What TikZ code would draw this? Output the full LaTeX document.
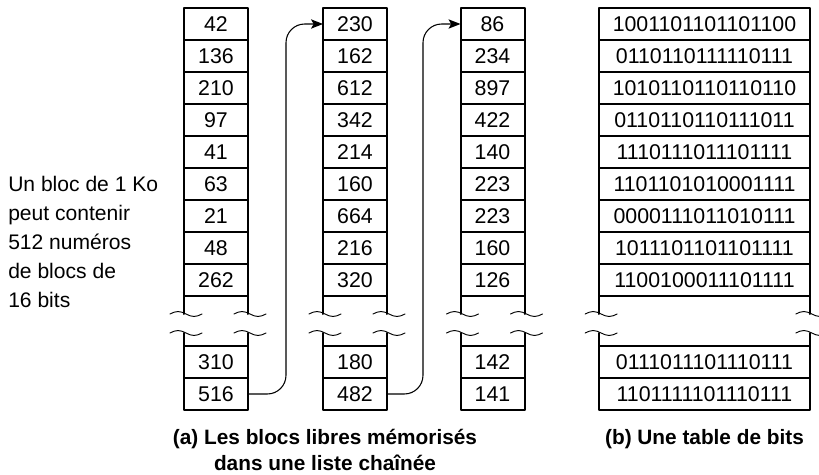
\documentclass[tikz,border=0pt]{standalone}
\usepackage{fontspec}
\setmainfont{Liberation Sans}
\usetikzlibrary{positioning,arrows.meta}

\tikzset{
  cell/.style={draw, line width=1.5pt, outer sep=0pt, minimum width=48pt, minimum height=24pt, inner sep=0pt, font=\fontsize{16}{18}\selectfont},
  bitcell/.style={cell, minimum width=158pt},
  wall/.style={line width=1.5pt},
  wave/.style={line width=0.7pt},
  link/.style={line width=0.8pt, rounded corners=14pt, -{Stealth[length=9pt,width=7pt,inset=2pt]}},
  note/.style={font=\fontsize{15.8}{21.6}\selectfont, align=left, inner sep=0pt},
  caption/.style={font=\bfseries\fontsize{15.6}{19}\selectfont, align=center, inner sep=0pt}
}

\begin{document}
\begin{tikzpicture}[x=0.75pt, y=-0.75pt, line join=round, line cap=round]
	\useasboundingbox (0,0) rectangle (819,475);
	\foreach \v [count=\i] in {42,136,210,97,41,63,21,48,262}
		\node[cell] (a\i) at (216,{24+32*(\i-1)}) {\v};
	\foreach \v [count=\i] in {230,162,612,342,214,160,664,216,320}
		\node[cell] (b\i) at (355,{24+32*(\i-1)}) {\v};
	\foreach \v [count=\i] in {86,234,897,422,140,223,223,160,126}
		\node[cell] (c\i) at (492.5,{24+32*(\i-1)}) {\v};
	\foreach \v [count=\i] in {1001101101101100,0110110111110111,1010110110110110,0110110110111011,1110111011101111,1101101010001111,0000111011010111,1011101101101111,1100100011101111}
		\node[bitcell] (t\i) at (704.5,{24+32*(\i-1)}) {\v};
	\node[cell] (a10) at (216,362) {310};
	\node[cell] (a11) at (216,394) {516};
	\node[cell] (b10) at (355,362) {180};
	\node[cell] (b11) at (355,394) {482};
	\node[cell] (c10) at (492.5,362) {142};
	\node[cell] (c11) at (492.5,394) {141};
	\node[bitcell] (t10) at (704.5,362) {0111011101110111};
	\node[bitcell] (t11) at (704.5,394) {1101111101110111};
	\foreach \n in {a,b,c,t}
		\foreach \s in {west,east} {
			\draw[wall] (\n9.south \s) -- ++(0,18);
			\draw[wall] (\n10.north \s) -- ++(0,-13);
			\draw[wave] (\n9.south \s) ++(-14,18) sin ++(8,-2.5) cos ++(8,2.5) sin ++(8,2.5) cos ++(8,-2.5);
			\draw[wave] (\n10.north \s) ++(-14,-13) sin ++(8,-2.5) cos ++(8,2.5) sin ++(8,2.5) cos ++(8,-2.5);
		}
	\draw[link] (a11.east) -- ++(38,0) |- (b1.west);
	\draw[link] (b11.east) -- ++(36,0) |- (c1.west);
	\node[note, anchor=west] (info) at (8,242) {Un bloc de 1 Ko\\peut contenir\\512 numéros\\de blocs de\\16 bits};
	\node[caption] (capa) at (325,450) {(a) Les blocs libres mémorisés\\dans une liste chaînée};
	\node[caption] (capb) at (704.5,439) {(b) Une table de bits};
\end{tikzpicture}
\end{document}
